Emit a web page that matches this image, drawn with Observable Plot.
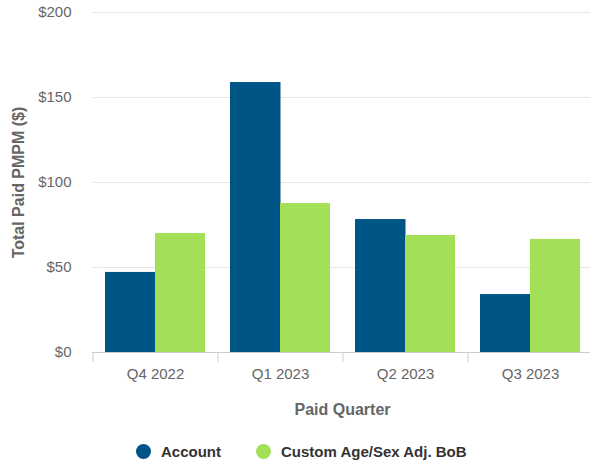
<!DOCTYPE html>
<html>
<head>
<meta charset="utf-8">
<script src="https://cdn.jsdelivr.net/npm/d3@7"></script>
<script src="https://cdn.jsdelivr.net/npm/@observablehq/plot@0.6"></script>
<style>
  html, body { margin: 0; padding: 0; background: #fff; }
  #wrap { width: 590px; position: relative; overflow: hidden; font-family: "Liberation Sans", Arial, sans-serif; }
  #legend { position: relative; height: 34px; width: 590px; }
  .item { position: absolute; top: 4px; height: 34px; display: flex; align-items: center; font-weight: bold; font-size: 15px; color: #333; }
  .dot { width: 15px; height: 15px; border-radius: 50%; margin-right: 10px; }
</style>
</head>
<body>
<div id="wrap"></div>
<script>
const quarters = ["Q4 2022", "Q1 2023", "Q2 2023", "Q3 2023"];
const seriesNames = ["Account", "Custom Age/Sex Adj. BoB"];
const accountValues = [47.1, 158.8, 78.2, 34.1];
const customValues = [70.0, 87.6, 68.8, 66.5];
const yTicks = [0, 50, 100, 150, 200];
const colors = ["#005587", "#a4e057"];

const accountData = quarters.map((q, i) => ({quarter: q, value: accountValues[i]}));
const customData = quarters.map((q, i) => ({quarter: q, value: customValues[i]}));

const W = 590, H = 430, mL = 92, mR = -2, mT = 12, mB = 78;
const step = (W - mL - mR) / quarters.length;
const half = step * 0.8 / 2;

const chart = Plot.plot({
  width: W,
  height: H,
  marginLeft: mL,
  marginRight: mR,
  marginTop: mT,
  marginBottom: mB,
  style: {fontFamily: '"Liberation Sans", Arial, sans-serif', fontSize: "15px", color: "#666", background: "#fff", overflow: "hidden"},
  x: {domain: quarters, paddingInner: 0.2, paddingOuter: 0.1, label: null},
  y: {domain: [0, 200], label: null},
  marks: [
    Plot.gridY(yTicks, {stroke: "#e6e6e6", strokeOpacity: 1, strokeWidth: 1}),
    Plot.axisY(yTicks, {tickSize: 0, tickPadding: 21, tickFormat: d => "$" + d, fill: "#666", fontSize: 15, label: null}),
    Plot.barY(accountData, {x: "quarter", y: "value", fill: colors[0], insetLeft: 0, insetRight: half - 0.5}),
    Plot.barY(customData, {x: "quarter", y: "value", fill: colors[1], insetLeft: half, insetRight: 0}),
    Plot.ruleY([0], {stroke: "#ccc", strokeWidth: 1}),
    Plot.axisX({tickSize: 10, tickFormat: () => "", dx: -step / 2, stroke: "#ccc", label: null}),
    Plot.axisX({tickSize: 0, tickPadding: 16, fill: "#666", fontSize: 15, label: null}),
    Plot.text(["Paid Quarter"], {frameAnchor: "bottom", lineAnchor: "middle", dy: 57, fontWeight: "bold", fontSize: 16, fill: "#666"}),
    Plot.text(["Total Paid PMPM ($)"], {frameAnchor: "left", textAnchor: "middle", lineAnchor: "middle", rotate: -90, dx: -74, fontWeight: "bold", fontSize: 16, fill: "#666"})
  ]
});

const wrap = document.getElementById("wrap");
wrap.appendChild(chart);

const legend = document.createElement("div");
legend.id = "legend";
const lefts = [136, 256];
seriesNames.forEach((name, i) => {
  const item = document.createElement("div");
  item.className = "item";
  item.style.left = lefts[i] + "px";
  const dot = document.createElement("span");
  dot.className = "dot";
  dot.style.background = colors[i];
  const label = document.createElement("span");
  label.textContent = name;
  item.appendChild(dot);
  item.appendChild(label);
  legend.appendChild(item);
});
wrap.appendChild(legend);
</script>
</body>
</html>
